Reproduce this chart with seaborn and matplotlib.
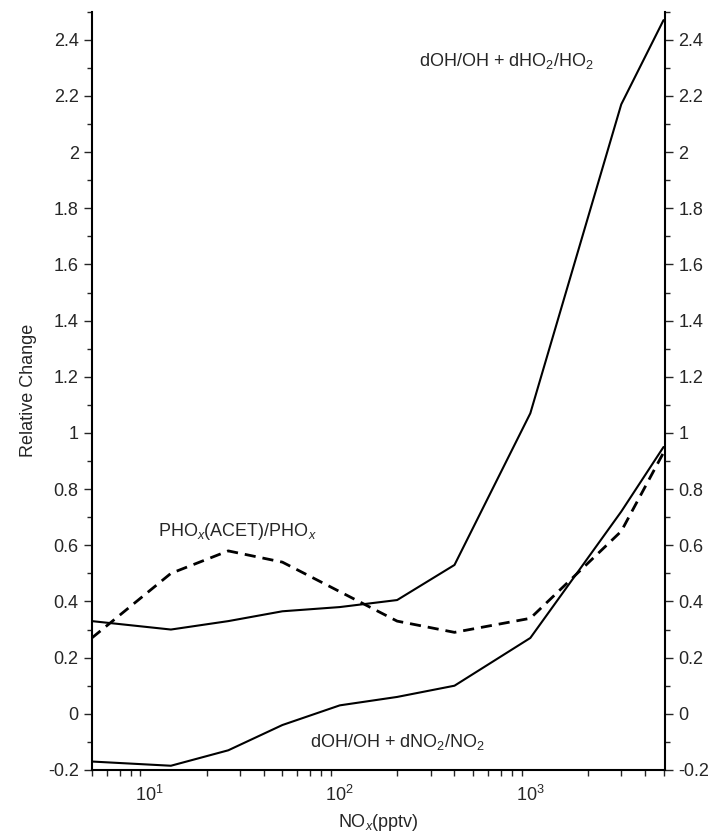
import matplotlib
matplotlib.use("Agg")
import matplotlib.pyplot as plt
import seaborn as sns
import numpy as np
import pandas as pd
from matplotlib.ticker import LogLocator, MultipleLocator, NullFormatter

# ---- data ----
nox = [5, 13, 26, 50, 100, 200, 400, 1000, 3000, 5000]
oh_ho2 = [0.33, 0.30, 0.33, 0.365, 0.38, 0.405, 0.53, 1.07, 2.17, 2.47]
phox_acet = [0.27, 0.50, 0.58, 0.54, 0.435, 0.33, 0.29, 0.34, 0.65, 0.93]
oh_no2 = [-0.17, -0.185, -0.13, -0.04, 0.03, 0.06, 0.10, 0.27, 0.72, 0.95]
yticks = [-0.2, 0, 0.2, 0.4, 0.6, 0.8, 1, 1.2, 1.4, 1.6, 1.8, 2, 2.2, 2.4]
ytick_labels = ["-0.2", "0", "0.2", "0.4", "0.6", "0.8", "1", "1.2", "1.4", "1.6", "1.8", "2", "2.2", "2.4"]

sns.set_style("ticks")
plt.rcParams['font.family'] = ['Liberation Sans', 'DejaVu Sans']
plt.rcParams['mathtext.fontset'] = 'custom'
plt.rcParams['mathtext.rm'] = 'Liberation Sans'
plt.rcParams['mathtext.it'] = 'Liberation Sans:italic'

fig = plt.figure(figsize=(7.23, 8.36), dpi=100)
ax = fig.add_axes([0.127, 0.079, 0.793, 0.907])

df = pd.DataFrame({"nox": nox, "a": oh_ho2, "b": phox_acet, "c": oh_no2})
sns.lineplot(data=df, x="nox", y="a", ax=ax, color="black", lw=1.5)
sns.lineplot(data=df, x="nox", y="c", ax=ax, color="black", lw=1.5)
sns.lineplot(data=df, x="nox", y="b", ax=ax, color="black", lw=2.0, linestyle=(0, (4, 2.5)))

ax.set_xscale("log")
ax.set_xlim(5, 5100)
ax.set_ylim(-0.2, 2.5)
ax.set_xticks([10, 100, 1000])
ax.set_xticklabels(["$10^1$", "$10^2$", "$10^3$"])
ax.xaxis.set_minor_locator(LogLocator(base=10, subs=np.arange(2, 10)))
ax.xaxis.set_minor_formatter(NullFormatter())
ax.set_yticks(yticks)
ax.set_yticklabels(ytick_labels)
ax.yaxis.set_minor_locator(MultipleLocator(0.1))

ax.tick_params(axis="x", which="major", length=0, labelsize=13, pad=11)
ax.tick_params(axis="x", which="minor", length=4, width=1, direction="out")
ax.tick_params(axis="y", which="major", length=6, width=1, labelsize=13, direction="out",
               right=True, labelright=True)
ax.tick_params(axis="y", which="minor", length=3.5, width=1, direction="out", right=True)

for s in ["left", "right", "bottom"]:
    ax.spines[s].set_visible(True)
    ax.spines[s].set_linewidth(1.5)
    ax.spines[s].set_color("black")
ax.spines["top"].set_visible(False)

ax.set_xlabel("NO$_x$(pptv)", fontsize=13, labelpad=5)
ax.set_ylabel("Relative Change", fontsize=13, labelpad=8)

ax.text(0.57, 0.935, "dOH/OH + dHO$_2$/HO$_2$", transform=ax.transAxes, fontsize=13, ha="left", va="center")
ax.text(0.115, 0.315, "PHO$_{\\mathit{x}}$(ACET)/PHO$_{\\mathit{x}}$", transform=ax.transAxes, fontsize=13, ha="left", va="center")
ax.text(0.38, 0.037, "dOH/OH + dNO$_2$/NO$_2$", transform=ax.transAxes, fontsize=13, ha="left", va="center")

fig.savefig("out.png", dpi=100)
